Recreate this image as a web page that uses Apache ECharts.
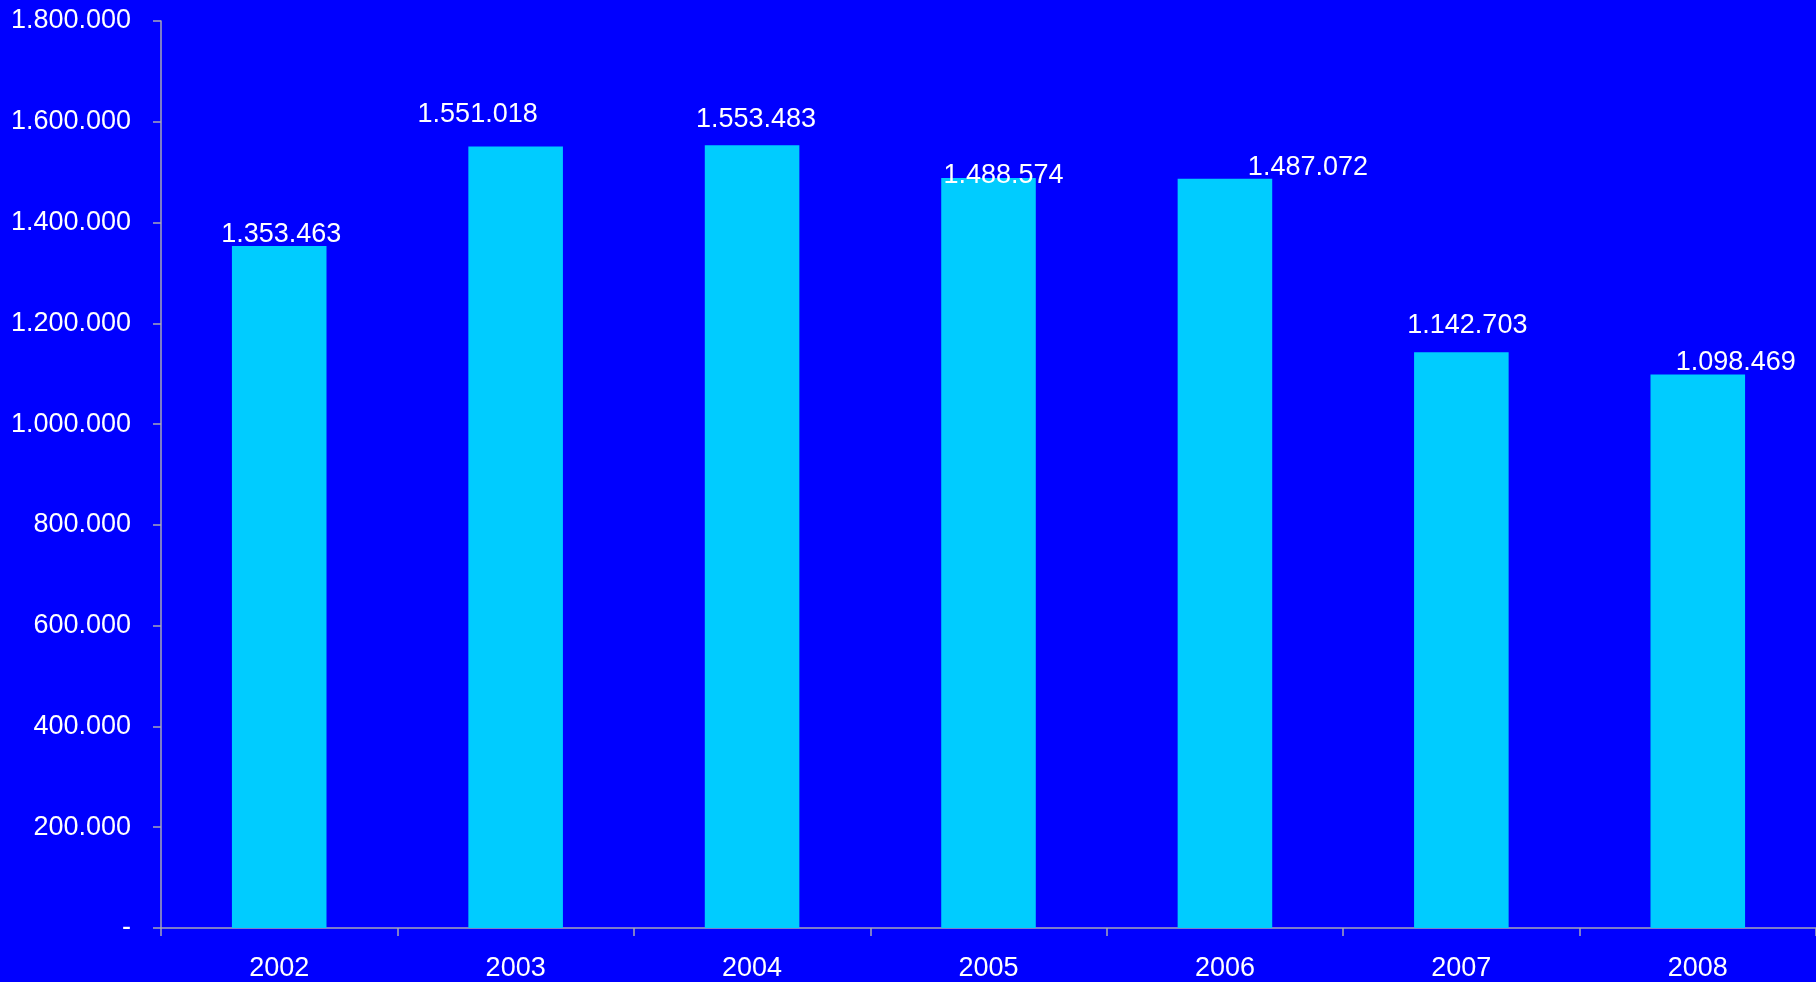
<!DOCTYPE html>
<html>
<head>
<meta charset="utf-8">
<title>2002–2008</title>
<script src="https://cdn.jsdelivr.net/npm/echarts@6/dist/echarts.min.js"></script>
<style>
  html, body { margin: 0; padding: 0; background: #0000FF; overflow: hidden; }
  #chart { width: 1816px; height: 982px; }
</style>
</head>
<body>
<div id="chart"></div>
<script>
// Yearly totals
const years = ['2002', '2003', '2004', '2005', '2006', '2007', '2008'];
const totals = [1353463, 1551018, 1553483, 1488574, 1487072, 1142703, 1098469];

// Value axis range
const axisMin = 0;
const axisMax = 1800000;
const axisStep = 200000;

// Per-bar nudges for the value labels (px)
const labelNudges = [[2, 0], [-38, -20], [4, -14], [15, 9], [83, 0], [6, -15], [38, 0]];

const FONT = '"Liberation Sans", Arial, sans-serif';

// Dotted thousands grouping, e.g. 1.353.463
function groupDots(v) {
  return String(Math.round(v)).replace(/\B(?=(\d{3})+(?!\d))/g, '.');
}

const chart = echarts.init(document.getElementById('chart'), null, { renderer: 'canvas' });

chart.setOption({
  backgroundColor: '#0000FF',
  animation: false,
  // plot area runs slightly past the right edge of the canvas
  grid: { left: 161, width: 1659, top: 21, height: 908, containLabel: false },
  xAxis: {
    type: 'category',
    data: years,
    boundaryGap: true,
    axisLine: { show: true, lineStyle: { color: '#a6a6b8', width: 1.5 } },
    axisTick: { show: true, alignWithLabel: false, length: 8, lineStyle: { color: '#a6a6b8', width: 1.5 } },
    axisLabel: { color: '#ffffff', fontFamily: FONT, fontSize: 27, margin: 27 },
    splitLine: { show: false }
  },
  yAxis: {
    type: 'value',
    min: axisMin,
    max: axisMax,
    interval: axisStep,
    axisLine: { show: true, lineStyle: { color: '#a6a6b8', width: 1.5 } },
    axisTick: { show: true, length: 8, lineStyle: { color: '#a6a6b8', width: 1.5 } },
    axisLabel: {
      color: '#ffffff',
      fontFamily: FONT,
      fontSize: 27,
      margin: 30,
      formatter: v => (v === 0 ? '-' : groupDots(v))
    },
    splitLine: { show: false }
  },
  series: [{
    type: 'bar',
    data: totals.map((v, i) => ({
      value: v,
      label: { offset: labelNudges[i] }
    })),
    barWidth: '40%',
    itemStyle: { color: '#00CCFF' },
    label: {
      show: true,
      position: 'top',
      distance: -2,
      color: '#ffffff',
      fontFamily: FONT,
      fontSize: 27,
      lineHeight: 27,
      formatter: p => groupDots(p.value)
    }
  }]
});
</script>
</body>
</html>
